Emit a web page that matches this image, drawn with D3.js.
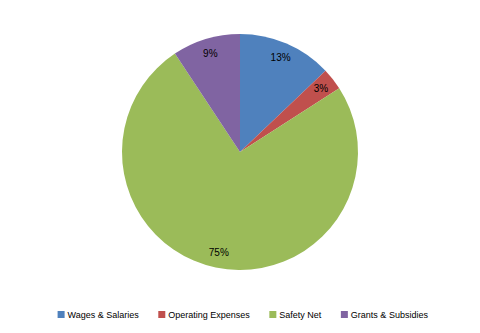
<!DOCTYPE html>
<html>
<head>
<meta charset="utf-8">
<script src="https://cdn.jsdelivr.net/npm/d3@7"></script>
<style>
  body { margin: 0; background: #fff; }
  text { font-family: "Liberation Sans", Arial, sans-serif; }
</style>
</head>
<body>
<div id="chart"></div>
<script>
// slice data, clockwise from 12 o'clock
const categories = ["Wages & Salaries", "Operating Expenses", "Safety Net", "Grants & Subsidies"];
const values = [12.9, 3.0, 74.8, 9.3];
const labels = ["13%", "3%", "75%", "9%"];
const colors = ["#4f81bd", "#c0504d", "#9bbb59", "#8064a2"];

const width = 480, height = 333;
const cx = 240, cy = 152, radius = 118;

const svg = d3.select("#chart")
  .append("svg")
  .attr("width", width)
  .attr("height", height);

const data = categories.map((c, i) => ({ name: c, value: values[i], label: labels[i], color: colors[i] }));

const pie = d3.pie().sort(null).value(d => d.value);
const arc = d3.arc().innerRadius(0).outerRadius(radius);
const labelArc = d3.arc().innerRadius(103).outerRadius(103);

const g = svg.append("g").attr("transform", "translate(" + cx + "," + cy + ")");

g.selectAll("path")
  .data(pie(data))
  .join("path")
  .attr("d", arc)
  .attr("fill", d => d.data.color);

g.selectAll("text")
  .data(pie(data))
  .join("text")
  .attr("transform", d => "translate(" + labelArc.centroid(d) + ")")
  .attr("text-anchor", "middle")
  .attr("dy", "0.35em")
  .attr("font-size", 10)
  .attr("fill", "#000")
  .text(d => d.data.label);

// legend
const legend = svg.append("g").attr("transform", "translate(0,315)");
const items = legend.selectAll("g")
  .data(data)
  .join("g");

items.append("rect")
  .attr("y", -4)
  .attr("width", 7)
  .attr("height", 7)
  .attr("fill", d => d.color);

items.append("text")
  .attr("x", 10)
  .attr("dy", "0.35em")
  .attr("font-size", 9)
  .attr("fill", "#000")
  .text(d => d.name);

// lay items out side by side, roughly centred
const gap = 19;
let widths = [];
items.each(function () { widths.push(this.getBBox().width); });
const total = d3.sum(widths) + gap * (widths.length - 1);
let x = (width - total) / 2 + 3;
items.attr("transform", (d, i) => {
  const t = "translate(" + x + ",0)";
  x += widths[i] + gap;
  return t;
});
</script>
</body>
</html>
